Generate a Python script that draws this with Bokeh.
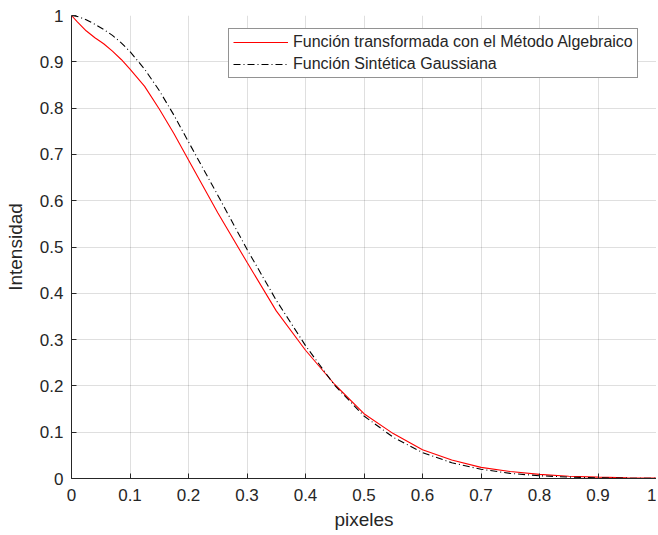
from bokeh.plotting import figure
from bokeh.models import Range1d, FixedTicker, Legend, LegendItem
from bokeh.embed import file_html
from bokeh.resources import INLINE

# ---- data ----
x_vals = [0.0, 0.01, 0.025, 0.04, 0.055, 0.07, 0.085, 0.1, 0.125, 0.15, 0.175, 0.2, 0.25, 0.3, 0.35,
          0.4, 0.45, 0.5, 0.55, 0.6, 0.65, 0.7, 0.75, 0.8, 0.85, 0.9, 0.95, 1.0]
red_vals = [1.0, 0.986, 0.967, 0.952, 0.939, 0.923, 0.905, 0.884, 0.847, 0.798, 0.745, 0.688, 0.574,
            0.467, 0.362, 0.277, 0.203, 0.140, 0.097, 0.062, 0.040, 0.024, 0.015, 0.009, 0.005,
            0.003, 0.0015, 0.0008]
black_vals = [1.0, 0.998, 0.991, 0.981, 0.970, 0.957, 0.941, 0.922, 0.884, 0.838, 0.785, 0.727, 0.612,
              0.495, 0.385, 0.287, 0.201, 0.135, 0.089, 0.056, 0.034, 0.020, 0.011, 0.006, 0.003,
              0.0015, 0.0007, 0.0003]

tick_vals = [0.0, 0.1, 0.2, 0.3, 0.4, 0.5, 0.6, 0.7, 0.8, 0.9, 1.0]
tick_labels = ["0", "0.1", "0.2", "0.3", "0.4", "0.5", "0.6", "0.7", "0.8", "0.9", "1"]

label_red = "Función transformada con el Método Algebraico"
label_black = "Función Sintética Gaussiana"
x_title = "pixeles"
y_title = "Intensidad"

FONT = "Liberation Sans"
AXC = "#262626"

p = figure(width=656, height=535, output_backend="svg", toolbar_location=None,
           x_range=Range1d(0, 1), y_range=Range1d(0, 1),
           min_border_left=71, min_border_right=0, min_border_top=15, min_border_bottom=57)
p.outline_line_color = None
p.background_fill_color = "white"

r_red = p.line(x_vals, red_vals, line_color="#ff0000", line_width=1.1)
r_black = p.line(x_vals, black_vals, line_color="#000000", line_width=1.1, line_dash="7 3 1 3")

overrides = {v: t for v, t in zip(tick_vals, tick_labels)}
for ax in (p.xaxis[0], p.yaxis[0]):
    ax.ticker = FixedTicker(ticks=tick_vals)
    ax.major_label_overrides = overrides
    ax.minor_tick_line_color = None
    ax.major_tick_in = 5
    ax.major_tick_out = 0
    ax.axis_line_color = AXC
    ax.major_tick_line_color = AXC
    ax.major_label_text_color = AXC
    ax.major_label_text_font = FONT
    ax.major_label_text_font_size = "17px"
    ax.axis_label_text_font = FONT
    ax.axis_label_text_font_size = "19px"
    ax.axis_label_text_font_style = "normal"
    ax.axis_label_text_color = AXC

p.xaxis.axis_label = x_title
p.yaxis.axis_label = y_title
p.xaxis.major_label_standoff = 10
p.yaxis.major_label_standoff = 8
p.xaxis.axis_label_standoff = 5
p.yaxis.axis_label_standoff = 11

p.grid.grid_line_color = "#262626"
p.grid.grid_line_alpha = 0.15

legend = Legend(items=[LegendItem(label=label_red, renderers=[r_red]),
                       LegendItem(label=label_black, renderers=[r_black])],
                location=(157, 400), margin=0, padding=4, spacing=4,
                glyph_width=55, glyph_height=18, label_height=18, label_standoff=5,
                label_text_font=FONT, label_text_font_size="16px", label_text_color=AXC,
                border_line_color=AXC, border_line_width=1, background_fill_alpha=1)
p.add_layout(legend, "center")

open("out.html", "w").write(file_html(p, INLINE))
